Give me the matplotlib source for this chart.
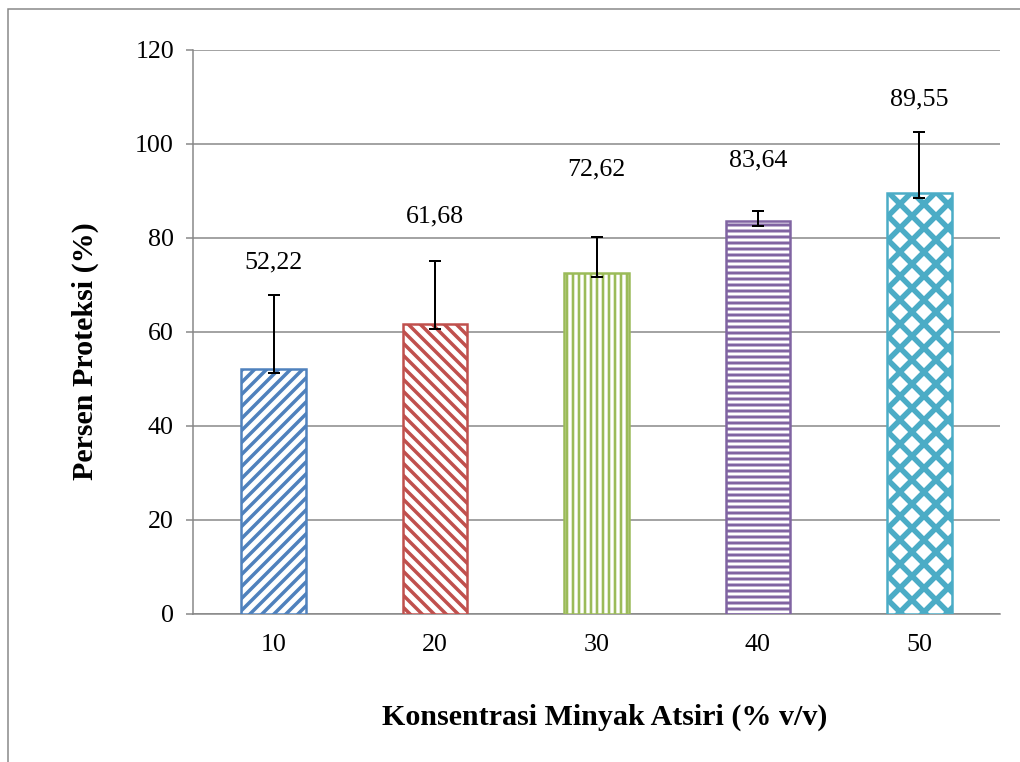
import numpy as np
import matplotlib.pyplot as plt
from matplotlib.patches import Rectangle

# data
konsentrasi = ["10", "20", "30", "40", "50"]
proteksi = [52.22, 61.68, 72.62, 83.64, 89.55]
err_bawah = [0.9, 1.1, 1.0, 1.0, 0.95]
err_atas = [15.7, 13.5, 7.5, 2.1, 13.1]

# layout: height of the value labels (data units)
label_y = [74.9, 84.5, 94.5, 96.6, 109.4]

colors = ["#4F81BD", "#C0504D", "#9BBB59", "#8064A2", "#4BACC6"]
hatches = ["//", "\\\\", "||", "--", "x"]
hatch_lw = [3.5, 3.5, 2.6, 3.0, 5.5]

plt.rcParams['font.family'] = ['Liberation Serif', 'DejaVu Serif']
plt.rcParams['hatch.linewidth'] = 3.5

DPI = 72
fig = plt.figure(figsize=(1020 / DPI, 762 / DPI), dpi=DPI)
ax = fig.add_axes([193 / 1020, 148 / 762, 807 / 1020, 564 / 762])

# outer chart frame (only left/top visible in the crop)
fig.patches.append(Rectangle((8 / 1020, -0.1), 1.2, 1.1 - 9 / 762,
                             transform=fig.transFigure, fill=False,
                             edgecolor="#868686", linewidth=1.5))

x = np.arange(len(konsentrasi))
for i in range(len(x)):
    plt.rcParams['hatch.linewidth'] = hatch_lw[i]
    b = ax.bar(x[i], proteksi[i], 0.40, facecolor="white", edgecolor=colors[i],
               hatch=hatches[i], linewidth=2.5, zorder=3)
    if hasattr(b[0], "set_hatch_linewidth"):
        b[0].set_hatch_linewidth(hatch_lw[i])
    ax.text(x[i], label_y[i], f"{proteksi[i]:.2f}".replace(".", ","),
            ha="center", va="center", fontsize=26)

ax.errorbar(x, proteksi, yerr=[err_bawah, err_atas], fmt="none", ecolor="black",
            elinewidth=2, capsize=6, capthick=2, zorder=4)

ax.set_xlim(-0.5, 4.5)
ax.set_ylim(0, 120)
ax.set_yticks(np.arange(0, 121, 20))
ax.set_xticks(x)
ax.set_xticklabels(konsentrasi)
ax.yaxis.grid(True, color="#868686", linewidth=1.5, zorder=0)
ax.set_axisbelow(True)
for s in ["top", "right"]:
    ax.spines[s].set_visible(False)
for s in ["left", "bottom"]:
    ax.spines[s].set_color("#868686")
    ax.spines[s].set_linewidth(1.5)
ax.tick_params(axis="y", length=7, width=1.5, color="#868686", labelsize=26, pad=12)
ax.tick_params(axis="x", length=0, labelsize=26, pad=20)

ax.set_xlabel("Konsentrasi Minyak Atsiri (% v/v)", fontsize=30, fontweight="bold")
ax.set_ylabel("Persen Proteksi (%)", fontsize=30, fontweight="bold")
ax.xaxis.set_label_coords((605 - 193) / 807, (614 - 717) / 564)
ax.yaxis.set_label_coords((85 - 193) / 807, (614 - 351) / 564)
ax.xaxis.label.set_va("center")
ax.yaxis.label.set_va("center")

fig.savefig("out.png", dpi=DPI)
